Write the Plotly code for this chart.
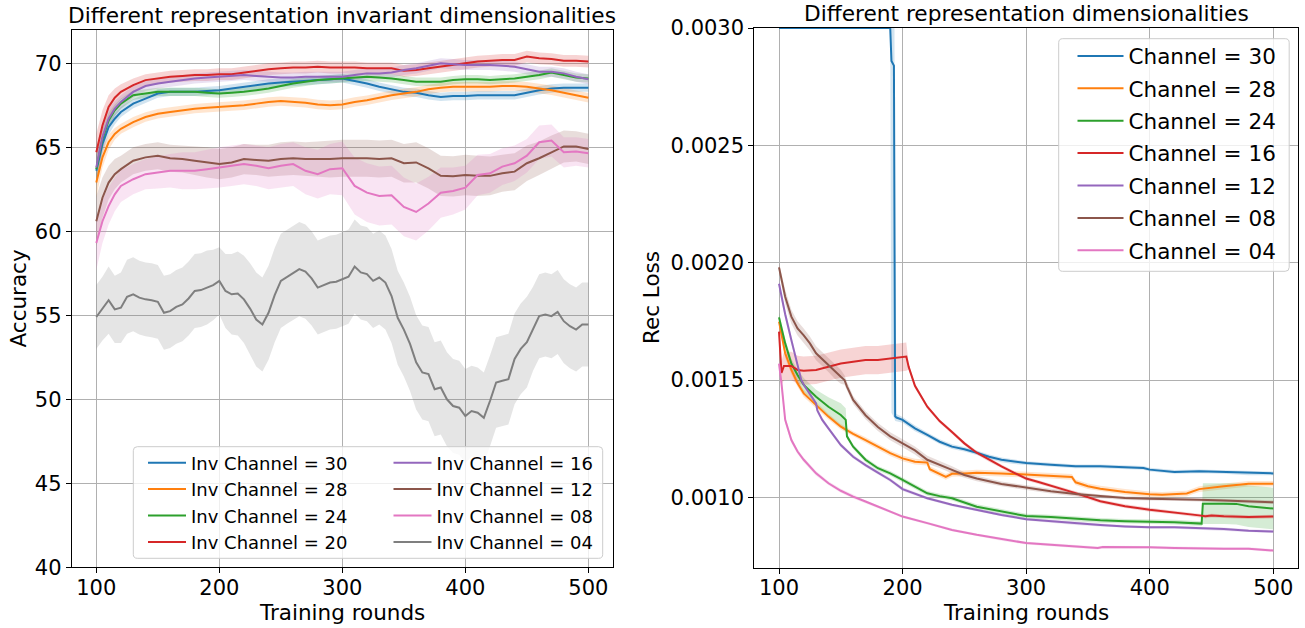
import numpy as np
import plotly.graph_objects as go

W, H = 1305, 628
FONT = "DejaVu Sans"

# ---------------- left panel: accuracy vs training rounds ----------------
ROUNDS_A = [100, 105, 110, 115, 120, 130, 140, 150, 160, 170, 180, 190, 200, 210, 220, 230,
            240, 250, 260, 270, 280, 290, 300, 310, 320, 330, 340, 350, 360, 370, 380, 390,
            400, 410, 420, 430, 440, 450, 460, 470, 480, 490, 500]
ACC_30 = [63.6, 65.2, 66.2, 66.7, 67.1, 67.6, 67.9, 68.2, 68.3, 68.3, 68.3, 68.35, 68.4, 68.5,
          68.6, 68.7, 68.8, 68.85, 68.9, 68.95, 69.0, 69.05, 69.1, 68.95, 68.8, 68.6, 68.45,
          68.3, 68.25, 68.1, 68.0, 68.05, 68.05, 68.1, 68.1, 68.1, 68.1, 68.25, 68.4, 68.5,
          68.55, 68.55, 68.55]
ACC_28 = [62.9, 64.4, 65.3, 65.8, 66.1, 66.5, 66.8, 67.0, 67.1, 67.2, 67.3, 67.35, 67.4, 67.45,
          67.5, 67.6, 67.7, 67.75, 67.7, 67.65, 67.55, 67.5, 67.55, 67.7, 67.8, 67.95, 68.1,
          68.2, 68.3, 68.45, 68.55, 68.6, 68.6, 68.6, 68.6, 68.65, 68.65, 68.6, 68.5, 68.4,
          68.25, 68.1, 67.95]
ACC_24 = [63.7, 65.5, 66.6, 67.2, 67.6, 68.1, 68.2, 68.3, 68.3, 68.3, 68.3, 68.25, 68.2, 68.25,
          68.3, 68.4, 68.5, 68.65, 68.8, 68.9, 69.0, 69.05, 69.1, 69.15, 69.2, 69.15, 69.1,
          69.0, 68.9, 68.9, 68.9, 69.0, 69.05, 69.05, 69.0, 69.05, 69.1, 69.2, 69.3, 69.45,
          69.3, 69.15, 69.1]
ACC_20 = [64.7, 66.3, 67.4, 67.95, 68.3, 68.7, 69.0, 69.1, 69.2, 69.25, 69.3, 69.3, 69.35, 69.35,
          69.45, 69.55, 69.65, 69.7, 69.75, 69.75, 69.8, 69.75, 69.75, 69.75, 69.7, 69.7, 69.7,
          69.55, 69.6, 69.7, 69.8, 69.9, 70.0, 70.1, 70.15, 70.2, 70.2, 70.4, 70.3, 70.25,
          70.15, 70.15, 70.1]
ACC_16 = [63.8, 65.6, 66.7, 67.3, 67.7, 68.3, 68.65, 68.8, 68.9, 69.0, 69.1, 69.15, 69.2, 69.25,
          69.3, 69.25, 69.2, 69.15, 69.15, 69.2, 69.2, 69.2, 69.2, 69.3, 69.4, 69.4, 69.45,
          69.6, 69.7, 69.85, 70.0, 69.95, 69.9, 69.9, 69.9, 69.85, 69.8, 69.65, 69.5, 69.5,
          69.4, 69.2, 69.05]
ACC_12 = [60.6, 62.0, 62.9, 63.4, 63.7, 64.2, 64.4, 64.5, 64.35, 64.3, 64.2, 64.1, 64.0, 64.1,
          64.3, 64.25, 64.2, 64.3, 64.35, 64.3, 64.3, 64.3, 64.35, 64.35, 64.35, 64.3, 64.35,
          64.05, 64.1, 63.75, 63.3, 63.27, 63.35, 63.3, 63.3, 63.45, 63.55, 64.05, 64.35, 64.7,
          65.05, 65.05, 64.9]
ACC_08 = [59.3, 60.6, 61.5, 62.2, 62.7, 63.1, 63.4, 63.5, 63.6, 63.6, 63.6, 63.7, 63.8, 63.9,
          64.0, 63.9, 63.75, 63.9, 64.0, 63.6, 63.4, 63.7, 63.75, 62.7, 62.3, 62.1, 62.15,
          61.45, 61.15, 61.65, 62.3, 62.4, 62.6, 63.35, 63.45, 63.85, 64.05, 64.5, 65.3, 65.4,
          64.7, 64.75, 64.65]
SD_30 = [0.9, 0.6, 0.45, 0.35, 0.3, 0.28, 0.25, 0.25, 0.25, 0.25, 0.25, 0.25, 0.25, 0.25, 0.25,
         0.25, 0.25, 0.25, 0.25, 0.25, 0.25, 0.25, 0.25, 0.25, 0.25, 0.25, 0.25, 0.25, 0.25, 0.25,
         0.25, 0.25, 0.25, 0.25, 0.25, 0.25, 0.25, 0.25, 0.25, 0.25, 0.25, 0.25, 0.25]
SD_28 = [0.9, 0.6, 0.45, 0.35, 0.3, 0.3, 0.28, 0.28, 0.28, 0.28, 0.28, 0.28, 0.28, 0.28, 0.28,
         0.28, 0.28, 0.28, 0.28, 0.28, 0.28, 0.28, 0.28, 0.28, 0.28, 0.28, 0.28, 0.28, 0.28, 0.28,
         0.28, 0.28, 0.28, 0.28, 0.28, 0.28, 0.28, 0.28, 0.28, 0.28, 0.28, 0.28, 0.28]
SD_24 = [0.9, 0.6, 0.45, 0.35, 0.3, 0.28, 0.25, 0.25, 0.25, 0.25, 0.25, 0.25, 0.25, 0.25, 0.25,
         0.25, 0.25, 0.25, 0.25, 0.25, 0.25, 0.25, 0.25, 0.25, 0.25, 0.25, 0.25, 0.25, 0.25, 0.25,
         0.25, 0.25, 0.25, 0.25, 0.25, 0.25, 0.25, 0.25, 0.25, 0.25, 0.25, 0.25, 0.25]
SD_20 = [1.1, 0.9, 0.7, 0.55, 0.45, 0.4, 0.35, 0.35, 0.35, 0.35, 0.35, 0.35, 0.35, 0.35, 0.35,
         0.35, 0.35, 0.35, 0.35, 0.35, 0.35, 0.35, 0.35, 0.35, 0.35, 0.35, 0.35, 0.35, 0.35, 0.35,
         0.35, 0.35, 0.35, 0.35, 0.35, 0.35, 0.35, 0.35, 0.35, 0.35, 0.35, 0.35, 0.35]
SD_16 = [1.0, 0.8, 0.6, 0.45, 0.4, 0.35, 0.3, 0.3, 0.3, 0.3, 0.3, 0.3, 0.3, 0.3, 0.3,
         0.3, 0.3, 0.3, 0.3, 0.3, 0.3, 0.3, 0.3, 0.3, 0.3, 0.3, 0.3, 0.3, 0.3, 0.3,
         0.3, 0.3, 0.3, 0.3, 0.3, 0.3, 0.3, 0.3, 0.3, 0.3, 0.3, 0.3, 0.3]
SD_12 = [1.5, 1.2, 1.0, 0.9, 0.8, 0.8, 0.8, 0.8, 0.8, 0.8, 0.85, 0.9, 0.9, 0.9, 0.9, 0.9, 0.95,
         1.0, 1.0, 1.0, 1.05, 1.1, 1.1, 1.1, 1.1, 1.1, 1.1, 1.15, 1.2, 1.2, 1.2, 1.2, 1.2, 1.2,
         1.15, 1.1, 1.1, 1.05, 1.0, 1.0, 0.95, 0.9, 0.9]
SD_08 = [1.6, 1.3, 1.1, 1.0, 0.95, 0.9, 0.9, 0.95, 1.0, 1.1, 1.1, 1.15, 1.2, 1.2, 1.2, 1.2, 1.25,
         1.3, 1.3, 1.4, 1.45, 1.5, 1.6, 1.7, 1.75, 1.75, 1.75, 1.75, 1.7, 1.6, 1.5, 1.4, 1.3, 1.2,
         1.15, 1.1, 1.05, 1.0, 1.0, 0.95, 0.9, 0.85, 0.85]

ROUNDS_G = [100, 105, 110, 115, 120, 125, 130, 135, 140, 145, 150, 155, 160, 165, 170, 175, 180,
            185, 190, 195, 200, 205, 210, 215, 220, 225, 230, 235, 240, 245, 250, 255, 260, 265,
            270, 275, 280, 285, 290, 295, 300, 305, 310, 315, 320, 325, 330, 335, 340, 345, 350,
            355, 360, 365, 370, 375, 380, 385, 390, 395, 400, 405, 410, 415, 420, 425, 430, 435,
            440, 445, 450, 455, 460, 465, 470, 475, 480, 485, 490, 495, 500]
ACC_04 = [54.9, 55.4, 55.9, 55.35, 55.45, 56.1, 56.25, 56.05, 55.95, 55.9, 55.8,
          55.15, 55.25, 55.5, 55.65, 56.0, 56.45, 56.5, 56.65, 56.8, 57.05,
          56.45, 56.25, 56.3, 55.95, 55.4, 54.75, 54.45, 55.15, 56.2, 57.05,
          57.3, 57.55, 57.75, 57.6, 57.2, 56.65, 56.8, 56.95, 57.0, 57.15,
          57.3, 57.9, 57.55, 57.45, 57.05, 57.25, 56.95, 56.15, 54.85, 54.15,
          53.3, 52.2, 51.6, 51.5, 50.6, 50.7, 50.0, 49.6, 49.5, 49.0,
          49.3, 49.2, 48.9, 49.9, 51.0, 51.1, 51.2, 52.4, 53.0, 53.4,
          54.2, 54.95, 55.05, 54.95, 55.2, 54.65, 54.35, 54.15, 54.45, 54.45]
SD_04 = [1.9, 1.9, 2.0, 2.0, 2.1, 2.2, 2.2, 2.2, 2.2, 2.2, 2.2,
         2.2, 2.2, 2.2, 2.2, 2.2, 2.2, 2.2, 2.2, 2.1, 2.0,
         2.2, 2.4, 2.5, 2.6, 2.7, 2.8, 2.8, 2.8, 2.8, 2.8,
         2.8, 2.8, 2.8, 2.8, 2.8, 2.8, 2.8, 2.8, 2.8, 2.8,
         2.8, 2.8, 2.8, 2.8, 2.8, 2.8, 2.8, 2.8, 2.8, 2.8,
         2.8, 2.8, 2.8, 2.8, 2.8, 2.8, 2.8, 2.8, 2.8, 2.8,
         2.7, 2.7, 2.7, 2.7, 2.7, 2.7, 2.7, 2.7, 2.7, 2.7,
         2.5, 2.5, 2.5, 2.5, 2.5, 2.5, 2.5, 2.5, 2.5, 2.5]

LEFT_NAMES = ["Inv Channel = 30", "Inv Channel = 28", "Inv Channel = 24", "Inv Channel = 20",
              "Inv Channel = 16", "Inv Channel = 12", "Inv Channel = 08", "Inv Channel = 04"]
LEFT_COLORS = ["#1f77b4", "#ff7f0e", "#2ca02c", "#d62728", "#9467bd", "#8c564b", "#e377c2", "#7f7f7f"]

# ---------------- right panel: reconstruction loss ----------------
RX_30 = [100, 120, 140, 160, 180, 190, 191, 193, 194, 195, 200, 210, 220, 230, 240, 250, 260, 270,
         280, 290, 300, 320, 340, 360, 380, 395, 400, 420, 440, 460, 480, 500]
REC_30 = [0.0030, 0.0030, 0.0030, 0.0030, 0.0030, 0.0030, 0.00286, 0.00284, 0.001345, 0.00134,
          0.00133, 0.001294, 0.001266, 0.001237, 0.001216, 0.001205, 0.00119, 0.001173, 0.00116,
          0.001152, 0.001146, 0.001139, 0.001132, 0.001132, 0.001128, 0.001125, 0.001118,
          0.001108, 0.001111, 0.001108, 0.001102, 0.001102]
RSD_30 = [0, 0, 0, 0, 0, 0, 0.0015, 0.0015, 0.00002, 0.000015, 0.000012, 0.000012, 0.00001,
          0.00001, 0.00001, 0.00001, 0.00001, 0.00001, 0.00001, 0.00001, 0.000008, 0.000008,
          0.000008, 0.000008, 0.000008, 0.000008, 0.000008, 0.000008, 0.000008, 0.000008,
          0.000008, 0.000008]

RX_28 = [100, 105, 110, 115, 120, 130, 140, 150, 160, 170, 180, 190, 200, 210, 220, 222, 235, 240,
         250, 260, 280, 300, 320, 337, 340, 350, 360, 380, 400, 410, 430, 435, 440, 460, 480, 500]
REC_28 = [0.001749, 0.001614, 0.001543, 0.001486, 0.001443, 0.001394, 0.001344, 0.001301,
          0.00127, 0.001244, 0.001216, 0.001188, 0.001166, 0.001152, 0.001148, 0.00112,
          0.001087, 0.0011, 0.001102, 0.001105, 0.001102, 0.001097, 0.001092, 0.001087,
          0.001064, 0.001047, 0.001037, 0.001023, 0.001013, 0.001011, 0.001016, 0.001026,
          0.001035, 0.001047, 0.001058, 0.001058]
RSD_28 = [0.00002, 0.00002, 0.000018, 0.000015, 0.000015, 0.000012, 0.000012, 0.000012,
          0.000012, 0.000012, 0.000012, 0.000012, 0.000012, 0.000012, 0.000012, 0.000012,
          0.000012, 0.000012, 0.000012, 0.000012, 0.000012, 0.000012, 0.000012, 0.000012,
          0.000012, 0.000012, 0.000012, 0.000012, 0.000012, 0.000012, 0.000012, 0.000012,
          0.000012, 0.000012, 0.000012, 0.000012]

RX_24 = [100, 105, 110, 115, 120, 130, 140, 150, 154, 155, 160, 170, 180, 190, 200, 210, 220, 230,
         240, 260, 280, 300, 320, 340, 360, 380, 400, 420, 442, 443, 460, 470, 480, 500]
REC_24 = [0.001767, 0.001656, 0.00157, 0.001521, 0.001479, 0.001429, 0.001386, 0.001351,
          0.00133, 0.00126, 0.001216, 0.00116, 0.001124, 0.001102, 0.001074, 0.001045,
          0.001017, 0.001005, 0.000996, 0.00096, 0.000939, 0.00092, 0.000916, 0.000908,
          0.000902, 0.000898, 0.000896, 0.000894, 0.000888, 0.000973, 0.000973, 0.000972,
          0.000962, 0.000952]
RSD_24 = [0.00002, 0.00002, 0.00002, 0.000025, 0.00003, 0.00003, 0.00004, 0.00005, 0.00005,
          0.00001, 0.00001, 0.00001, 0.00001, 0.00001, 0.00001, 0.00001, 0.00001, 0.00001,
          0.00001, 0.00001, 0.00001, 0.00001, 0.00001, 0.00001, 0.00001, 0.00001, 0.00001,
          0.00001, 0.00001, 0.000087, 0.000087, 0.000088, 0.000088, 0.000089]

RX_16 = [100, 102, 104, 110, 115, 120, 130, 140, 150, 160, 170, 180, 190, 200, 203, 205, 210, 220,
         230, 240, 250, 260, 270, 280, 290, 300, 310, 320, 340, 360, 380, 400, 420, 440, 445, 450,
         460, 480, 500]
REC_16 = [0.001706, 0.00153, 0.00156, 0.00156, 0.001543, 0.00154, 0.001543, 0.001557, 0.00157,
          0.001578, 0.001585, 0.001585, 0.001592, 0.001597, 0.0016, 0.001555, 0.001475,
          0.001386, 0.001325, 0.001278, 0.00123, 0.00119, 0.00116, 0.001132, 0.001105, 0.00108,
          0.001065, 0.00105, 0.001018, 0.000983, 0.000962, 0.000947, 0.000936, 0.000923,
          0.000919, 0.000922, 0.000919, 0.000916, 0.000918]
RSD_16 = [0.00003, 0.00005, 0.00006, 0.00006, 0.00006, 0.00006, 0.00006, 0.00006, 0.00006,
          0.00006, 0.00006, 0.00006, 0.00006, 0.00006, 0.00006, 0.00001, 0.00001, 0.000008,
          0.000008, 0.000008, 0.000008, 0.000008, 0.000008, 0.000008, 0.000008, 0.000008,
          0.000008, 0.000008, 0.000008, 0.000008, 0.000008, 0.000008, 0.000008, 0.000008,
          0.000008, 0.000008, 0.000008, 0.000008, 0.000008]

RX_12 = [100, 105, 110, 115, 118, 120, 125, 130, 131, 135, 140, 150, 160, 170, 180, 190, 200, 220,
         240, 260, 280, 300, 320, 340, 360, 380, 400, 420, 440, 460, 480, 500]
REC_12 = [0.00191, 0.00178, 0.00167, 0.00157, 0.0015, 0.00148, 0.00144, 0.0014, 0.00137, 0.00133,
          0.001294, 0.001223, 0.001173, 0.001137, 0.001105, 0.001074, 0.001035, 0.000996,
          0.000968, 0.000946, 0.000925, 0.000907, 0.000898, 0.000888, 0.000882, 0.000876,
          0.000872, 0.000872, 0.000869, 0.000865, 0.000858, 0.000854]
RSD_12 = [0.00002, 0.00002, 0.00002, 0.000015, 0.000012, 0.00001, 0.00001, 0.00001, 0.00001,
          0.00001, 0.000008, 0.000008, 0.000008, 0.000008, 0.000008, 0.000008, 0.000008,
          0.000006, 0.000006, 0.000006, 0.000006, 0.000006, 0.000006, 0.000006, 0.000006,
          0.000006, 0.000006, 0.000006, 0.000006, 0.000006, 0.000006, 0.000006]

RX_08 = [100, 105, 110, 115, 120, 125, 130, 140, 145, 150, 153, 155, 160, 170, 180, 190, 200, 210,
         220, 230, 240, 250, 260, 280, 300, 320, 340, 360, 380, 400, 420, 440, 460, 480, 500]
REC_08 = [0.00198, 0.001855, 0.00177, 0.00172, 0.00169, 0.001656, 0.001614, 0.001564, 0.001535,
          0.001514, 0.0015, 0.001472, 0.001415, 0.00135, 0.0013, 0.00126, 0.00123, 0.0012,
          0.00116, 0.00114, 0.001117, 0.001095, 0.00108, 0.001057, 0.00104, 0.001026, 0.001014,
          0.001004, 0.000997, 0.000994, 0.000993, 0.00099, 0.000986, 0.000983, 0.000979]
RSD_08 = [0.00002, 0.00003, 0.00003, 0.00003, 0.00003, 0.00003, 0.00003, 0.00003, 0.00003,
          0.00003, 0.00002, 0.00002, 0.000017, 0.000017, 0.000017, 0.000017, 0.000017,
          0.000017, 0.000017, 0.000015, 0.000015, 0.000012, 0.000012, 0.00001, 0.00001,
          0.00001, 0.00001, 0.000008, 0.000008, 0.000008, 0.000008, 0.000008, 0.000008,
          0.000008, 0.000008]

RX_04 = [100, 102, 105, 110, 115, 120, 130, 140, 150, 160, 170, 180, 190, 200, 220, 240, 260, 280,
         300, 320, 340, 358, 362, 380, 400, 420, 440, 460, 480, 490, 500]
REC_04 = [0.00157, 0.001486, 0.00133, 0.001244, 0.001195, 0.00116, 0.001102, 0.00106, 0.001028,
          0.001003, 0.000982, 0.00096, 0.000939, 0.000918, 0.00089, 0.000861, 0.00084, 0.000821,
          0.000805, 0.000798, 0.000791, 0.000784, 0.000788, 0.000788, 0.000787, 0.000784,
          0.000781, 0.000781, 0.000781, 0.000778, 0.000773]
RSD_04 = [0.00002, 0.00002, 0.000015, 0.000012, 0.00001, 0.00001, 0.00001, 0.000008, 0.000008,
          0.000008, 0.000006, 0.000006, 0.000006, 0.000006, 0.000006, 0.000006, 0.000006,
          0.000006, 0.000006, 0.000006, 0.000006, 0.000006, 0.000006, 0.000006, 0.000006,
          0.000006, 0.000006, 0.000006, 0.000006, 0.000006, 0.000006]

RIGHT_NAMES = ["Channel = 30", "Channel = 28", "Channel = 24", "Channel = 16",
               "Channel = 12", "Channel = 08", "Channel = 04"]
RIGHT_COLORS = ["#1f77b4", "#ff7f0e", "#2ca02c", "#d62728", "#9467bd", "#8c564b", "#e377c2"]

X_TICKS = [100, 200, 300, 400, 500]
ACC_TICKS = [40, 45, 50, 55, 60, 65, 70]
LOSS_TICKS = [0.0010, 0.0015, 0.0020, 0.0025, 0.0030]

TITLE_L = "Different representation invariant dimensionalities"
TITLE_R = "Different representation dimensionalities"


def rgba(hexc, a):
    h = hexc.lstrip("#")
    return "rgba(%d,%d,%d,%s)" % (int(h[0:2], 16), int(h[2:4], 16), int(h[4:6], 16), a)


def band(x, m, s, color, xa, ya):
    x = np.asarray(x, float)
    m = np.asarray(m, float)
    s = np.asarray(s, float)
    return go.Scatter(x=np.concatenate([x, x[::-1]]),
                      y=np.concatenate([m + s, (m - s)[::-1]]),
                      mode="lines", fill="toself", fillcolor=rgba(color, 0.2),
                      line=dict(width=0, color=rgba(color, 0)), showlegend=False,
                      hoverinfo="skip", xaxis=xa, yaxis=ya)


fig = go.Figure()

left_series = [
    (ROUNDS_A, ACC_30, SD_30), (ROUNDS_A, ACC_28, SD_28), (ROUNDS_A, ACC_24, SD_24),
    (ROUNDS_A, ACC_20, SD_20), (ROUNDS_A, ACC_16, SD_16), (ROUNDS_A, ACC_12, SD_12),
    (ROUNDS_A, ACC_08, SD_08), (ROUNDS_G, ACC_04, SD_04),
]
right_series = [
    (RX_30, REC_30, RSD_30), (RX_28, REC_28, RSD_28), (RX_24, REC_24, RSD_24),
    (RX_16, REC_16, RSD_16), (RX_12, REC_12, RSD_12), (RX_08, REC_08, RSD_08),
    (RX_04, REC_04, RSD_04),
]

# bands first (below all lines, as in matplotlib)
for (x, m, s), c in zip(left_series, LEFT_COLORS):
    fig.add_trace(band(x, m, s, c, "x", "y"))
for (x, m, s), c in zip(right_series, RIGHT_COLORS):
    fig.add_trace(band(x, m, s, c, "x2", "y2"))

LW = 2
for i, ((x, m, s), c, n) in enumerate(zip(left_series, LEFT_COLORS, LEFT_NAMES)):
    fig.add_trace(go.Scatter(x=x, y=m, mode="lines", name=n, line=dict(color=c, width=LW),
                             xaxis="x", yaxis="y", legend="legend" if i < 4 else "legend2",
                             legendgroup="L%d" % i))
for i, ((x, m, s), c, n) in enumerate(zip(right_series, RIGHT_COLORS, RIGHT_NAMES)):
    fig.add_trace(go.Scatter(x=x, y=m, mode="lines", name=n, line=dict(color=c, width=LW),
                             xaxis="x2", yaxis="y2", legend="legend3",
                             legendgroup="R%d" % i))


def px_x(v):
    return v / W


def px_y(v):
    return 1 - v / H


def rrect(x0, y0, x1, y1, r=4):
    X, Y = px_x, px_y
    return ("M %f,%f L %f,%f Q %f,%f %f,%f L %f,%f Q %f,%f %f,%f L %f,%f Q %f,%f %f,%f "
            "L %f,%f Q %f,%f %f,%f Z") % (
        X(x0 + r), Y(y0), X(x1 - r), Y(y0), X(x1), Y(y0), X(x1), Y(y0 + r),
        X(x1), Y(y1 - r), X(x1), Y(y1), X(x1 - r), Y(y1),
        X(x0 + r), Y(y1), X(x0), Y(y1), X(x0), Y(y1 - r),
        X(x0), Y(y0 + r), X(x0), Y(y0), X(x0 + r), Y(y0))


axis_common = dict(showgrid=True, gridcolor="#b0b0b0", gridwidth=1, zeroline=False,
                   showline=True, linecolor="black", linewidth=1, mirror=True,
                   ticks="outside", ticklen=5, tickwidth=1, tickcolor="black",
                   tickfont=dict(family=FONT, size=21, color="black"), automargin=False)

fig.update_layout(
    width=W, height=H, margin=dict(l=0, r=0, t=0, b=0, pad=0),
    paper_bgcolor="white", plot_bgcolor="white", hovermode=False,
    font=dict(family=FONT, color="black"),
    xaxis=dict(domain=[71.7 / W, 613 / W], range=[80, 520], tickvals=X_TICKS, anchor="y",
               ticklabelstandoff=-4, **axis_common),
    yaxis=dict(domain=[1 - 567.3 / H, 1 - 29.7 / H], range=[40, 72], tickvals=ACC_TICKS,
               anchor="x", **axis_common),
    xaxis2=dict(domain=[754.3 / W, 1298 / W], range=[80, 520], tickvals=X_TICKS, anchor="y2",
                ticklabelstandoff=-4, **axis_common),
    yaxis2=dict(domain=[1 - 567.7 / H, 1 - 28.1 / H], range=[0.0007, 0.0030],
                tickvals=LOSS_TICKS, tickformat=".4f", anchor="x2", **axis_common),
    legend=dict(x=px_x(143), y=px_y(444.5), xanchor="left", yanchor="top",
                bgcolor="rgba(0,0,0,0)", borderwidth=0, itemwidth=38,
                font=dict(family=FONT, size=18, color="black"), traceorder="normal"),
    legend2=dict(x=px_x(388.5), y=px_y(444.5), xanchor="left", yanchor="top",
                 bgcolor="rgba(0,0,0,0)", borderwidth=0, itemwidth=38,
                 font=dict(family=FONT, size=18, color="black"), traceorder="normal"),
    legend3=dict(x=px_x(1072.5), y=px_y(35.4), xanchor="left", yanchor="top",
                 bgcolor="rgba(0,0,0,0)", borderwidth=0, itemwidth=46,
                 font=dict(family=FONT, size=21.5, color="black"), traceorder="grouped",
                 tracegroupgap=1.45),
    shapes=[
        dict(type="path", xref="paper", yref="paper", path=rrect(133.3, 446.7, 602.7, 558.3),
             fillcolor="rgba(255,255,255,0.8)", line=dict(color="#cccccc", width=1), layer="above"),
        dict(type="path", xref="paper", yref="paper", path=rrect(1058.7, 38.7, 1289.2, 271.3),
             fillcolor="rgba(255,255,255,0.8)", line=dict(color="#cccccc", width=1), layer="above"),
    ],
    annotations=[
        dict(text=TITLE_L, x=px_x(342), y=px_y(15.4), xref="paper", yref="paper",
             showarrow=False, xanchor="center", yanchor="middle",
             font=dict(family=FONT, size=21.7, color="black")),
        dict(text=TITLE_R, x=px_x(1026), y=px_y(13.8), xref="paper", yref="paper",
             showarrow=False, xanchor="center", yanchor="middle",
             font=dict(family=FONT, size=21.7, color="black")),
        dict(text="Training rounds", x=px_x(342), y=px_y(612), xref="paper", yref="paper",
             showarrow=False, xanchor="center", yanchor="middle",
             font=dict(family=FONT, size=21.5, color="black")),
        dict(text="Training rounds", x=px_x(1026), y=px_y(612), xref="paper", yref="paper",
             showarrow=False, xanchor="center", yanchor="middle",
             font=dict(family=FONT, size=21.5, color="black")),
        dict(text="Accuracy", x=px_x(18), y=px_y(298.5), xref="paper", yref="paper",
             showarrow=False, xanchor="center", yanchor="middle", textangle=-90,
             font=dict(family=FONT, size=21.5, color="black")),
        dict(text="Rec Loss", x=px_x(651), y=px_y(298), xref="paper", yref="paper",
             showarrow=False, xanchor="center", yanchor="middle", textangle=-90,
             font=dict(family=FONT, size=21.5, color="black")),
    ],
)

fig.write_html("out.html", config={"displayModeBar": False},
               post_script="document.body.style.margin='0';document.body.style.overflow='hidden';")
